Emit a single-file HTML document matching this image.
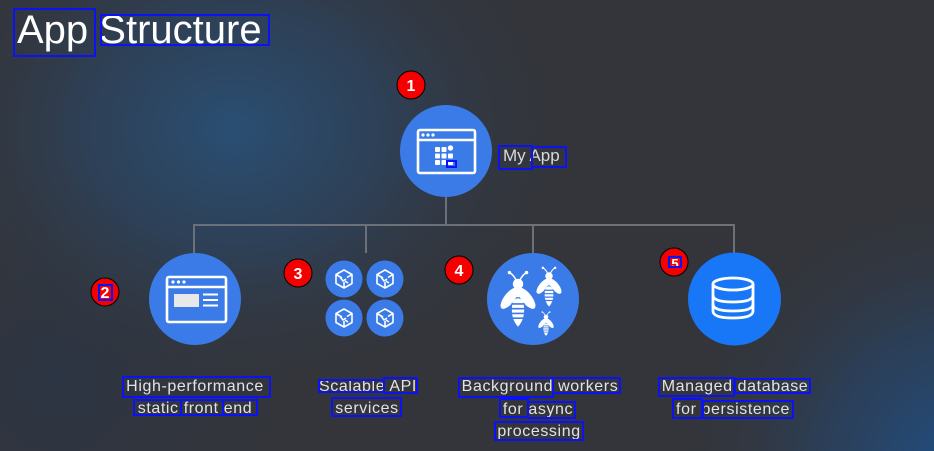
<!DOCTYPE html>
<html><head><meta charset="utf-8"><style>
html,body{margin:0;padding:0;}
body{width:934px;height:451px;overflow:hidden;background:#33353b;}
svg{display:block;}
text{font-family:"Liberation Sans",Arial,sans-serif;}
</style></head><body>
<svg width="934" height="451" viewBox="0 0 934 451" xmlns="http://www.w3.org/2000/svg">
<defs>
<radialGradient id="g1" cx="235" cy="130" r="330" gradientUnits="userSpaceOnUse" gradientTransform="translate(235 130) scale(1 0.8) translate(-235 -130)">
<stop offset="0" stop-color="#2a4f74"/>
<stop offset="0.45" stop-color="#2c4460" stop-opacity="0.75"/>
<stop offset="1" stop-color="#33353b" stop-opacity="0"/>
</radialGradient>
<radialGradient id="g2" cx="960" cy="470" r="280" gradientUnits="userSpaceOnUse">
<stop offset="0" stop-color="#1f4f85"/>
<stop offset="0.5" stop-color="#27456a" stop-opacity="0.6"/>
<stop offset="1" stop-color="#33353b" stop-opacity="0"/>
</radialGradient>
<radialGradient id="g3" cx="60" cy="380" r="260" gradientUnits="userSpaceOnUse">
<stop offset="0" stop-color="#2c3544"/>
<stop offset="1" stop-color="#33353b" stop-opacity="0"/>
</radialGradient>
<g id="bee">
<path d="M-2,-4 Q-5,-10 -9,-12 M2,-4 Q5,-10 9,-12" stroke="#fff" stroke-width="1.6" fill="none"/>
<circle cx="-9" cy="-12" r="1.8" fill="#fff"/>
<circle cx="9" cy="-12" r="1.8" fill="#fff"/>
<circle cx="0" cy="0" r="5.5" fill="#fff"/>
<ellipse cx="-9" cy="15" rx="5.5" ry="13.5" fill="#fff" transform="rotate(38 -9 15)"/>
<ellipse cx="9" cy="15" rx="5.5" ry="13.5" fill="#fff" transform="rotate(-38 9 15)"/>
<ellipse cx="0" cy="9" rx="4.5" ry="5" fill="#fff"/>
<path d="M-6.5,27 Q-6.5,16 0,15 Q6.5,16 6.5,27 Q6.5,38 0,45 Q-6.5,38 -6.5,27Z" fill="#fff"/>
<path d="M-7,21 H7 M-7,26 H7 M-7,31 H7 M-7,36 H7" stroke="#3b7be6" stroke-width="1.8"/>
</g>
<g id="cube" fill="none" stroke="#fff" stroke-width="1.6" stroke-linejoin="round">
<path d="M0,-9 L8,-4.5 L8,4.5 L0,9 L-8,4.5 L-8,-4.5Z"/>
<path d="M-8,-4.5 L-2,-1 M8,-4.5 L3,-1.5 M0,3 L0,9"/>
<path d="M-4,-2 L-1,2 L2,0 M1,2 L4,4"/>
</g>
</defs>
<rect width="934" height="451" fill="#33353b"/>
<rect width="934" height="451" fill="url(#g3)"/>
<rect width="934" height="451" fill="url(#g1)"/>
<rect width="934" height="451" fill="url(#g2)"/>

<!-- connectors -->
<g stroke="#6c7079" stroke-width="2" fill="none">
<path d="M446,196 V225"/>
<path d="M194,253 V225 H734 V253"/>
<path d="M366,225 V253"/>
<path d="M533,225 V253"/>
</g>

<!-- main node -->
<circle cx="446" cy="151" r="46" fill="#3b7be8"/>
<g fill="none" stroke="#fff" stroke-width="2.6">
<rect x="418" y="130" width="57" height="43" rx="2"/>
<path d="M418,140 H475"/>
</g>
<g fill="#fff">
<circle cx="423" cy="135" r="1.6"/><circle cx="428" cy="135" r="1.6"/><circle cx="433" cy="135" r="1.6"/>
<rect x="435" y="147" width="5" height="5" rx="1"/><rect x="441.5" y="147" width="5" height="5" rx="1"/><circle cx="450.5" cy="148" r="2.7"/>
<rect x="435" y="153.5" width="5" height="5" rx="1"/><rect x="441.5" y="153.5" width="5" height="5" rx="1"/><rect x="448" y="153.5" width="5" height="5" rx="1"/>
<rect x="435" y="160" width="5" height="5" rx="1"/><rect x="441.5" y="160" width="5" height="5" rx="1"/><rect x="448" y="160" width="5" height="5" rx="1"/>
</g>

<!-- front-end node -->
<circle cx="195" cy="299" r="46" fill="#3b7be8"/>
<g fill="none" stroke="#fff" stroke-width="2.6">
<rect x="167" y="277" width="59" height="45" rx="2"/>
<path d="M167,287 H226"/>
</g>
<g fill="#fff">
<circle cx="173" cy="282" r="1.6"/><circle cx="178.5" cy="282" r="1.6"/><circle cx="184" cy="282" r="1.6"/>
<rect x="174" y="294" width="25" height="13" fill="#e8e8ea"/>
<rect x="203" y="293.5" width="15" height="2"/><rect x="203" y="299" width="15" height="2"/><rect x="203" y="304.5" width="15" height="2"/>
</g>

<!-- API nodes -->
<circle cx="344" cy="279" r="18.5" fill="#3b7be8"/>
<circle cx="385" cy="279" r="18.5" fill="#3b7be8"/>
<circle cx="344" cy="318" r="18.5" fill="#3b7be8"/>
<circle cx="385" cy="318" r="18.5" fill="#3b7be8"/>
<use href="#cube" x="344" y="279"/>
<use href="#cube" x="385" y="279"/>
<use href="#cube" x="344" y="318"/>
<use href="#cube" x="385" y="318"/>

<!-- workers node -->
<circle cx="533" cy="299" r="46" fill="#3b7be8"/>
<use href="#bee" transform="translate(518,284) scale(0.95)"/>
<use href="#bee" transform="translate(549,276) scale(0.68)"/>
<use href="#bee" transform="translate(546,317) scale(0.42)"/>

<!-- DB node -->
<circle cx="734.5" cy="299" r="46.5" fill="#1877f7"/>
<g fill="none" stroke="#fff" stroke-width="2.8">
<ellipse cx="733" cy="284" rx="20" ry="6"/>
<path d="M713,284 V311 Q713,318 733,318 Q753,318 753,311 V284"/>
<path d="M713,295 Q713,302 733,302 Q753,302 753,295"/>
<path d="M713,304 Q713,311 733,311 Q753,311 753,304"/>
</g>

<!-- badges -->
<g stroke="#000" stroke-width="1" fill="#f40000">
<circle cx="411" cy="85" r="14"/>
<circle cx="105" cy="292" r="14"/>
<circle cx="298" cy="273" r="14"/>
<circle cx="459" cy="270" r="14"/>
<circle cx="674" cy="262" r="14"/>
</g>
<g fill="#fff" font-weight="bold" font-size="16" text-anchor="middle">
<text x="411" y="91">1</text>
<text x="105" y="298">2</text>
<text x="298" y="279">3</text>
<text x="459" y="276">4</text>
<text x="675" y="268" font-size="13">5</text>
</g>

<!-- title -->
<text x="17" y="43" font-size="40" fill="#ffffff">App Structure</text>
<text x="503" y="161" font-size="17" fill="#d9dadd">My App</text>

<!-- labels -->
<g fill="#e2e3e6" font-size="16" text-anchor="middle" letter-spacing="0.6">
<text x="195" y="391">High-performance</text>
<text x="195" y="413">static front end</text>
<text x="368" y="391">Scalable API</text>
<text x="367" y="413">services</text>
<text x="540" y="391">Background workers</text>
<text x="538" y="414">for async</text>
<text x="539" y="436">processing</text>
<text x="735" y="391">Managed database</text>
<text x="733" y="414">for persistence</text>
</g>

<!-- OCR boxes -->
<g fill="none" stroke="#0b12f5" stroke-width="2">
<rect x="14" y="9" width="81" height="47"/>
<rect x="101" y="15" width="168" height="30"/>
<rect x="499" y="146" width="33" height="23"/>
<rect x="532" y="147" width="34" height="20"/>
<rect x="447" y="161" width="9" height="6"/>
<rect x="99" y="285" width="13" height="15"/>
<rect x="669" y="257" width="12" height="10"/>
<rect x="123" y="377" width="147" height="20"/>
<rect x="134" y="400" width="47" height="15"/>
<rect x="181" y="400" width="42" height="15"/>
<rect x="223" y="400" width="34" height="15"/>
<rect x="319" y="380" width="65" height="12"/>
<rect x="384" y="378" width="33" height="15"/>
<rect x="332" y="398" width="69" height="18"/>
<rect x="459" y="378" width="94" height="19"/>
<rect x="553" y="378" width="67" height="15"/>
<rect x="500" y="399" width="28" height="18"/>
<rect x="528" y="402" width="47" height="16"/>
<rect x="495" y="422" width="88" height="18"/>
<rect x="659" y="378" width="75" height="18"/>
<rect x="735" y="379" width="75" height="14"/>
<rect x="673" y="399" width="29" height="19"/>
<rect x="703" y="401" width="90" height="17"/>
</g>
</svg>
</body></html>
